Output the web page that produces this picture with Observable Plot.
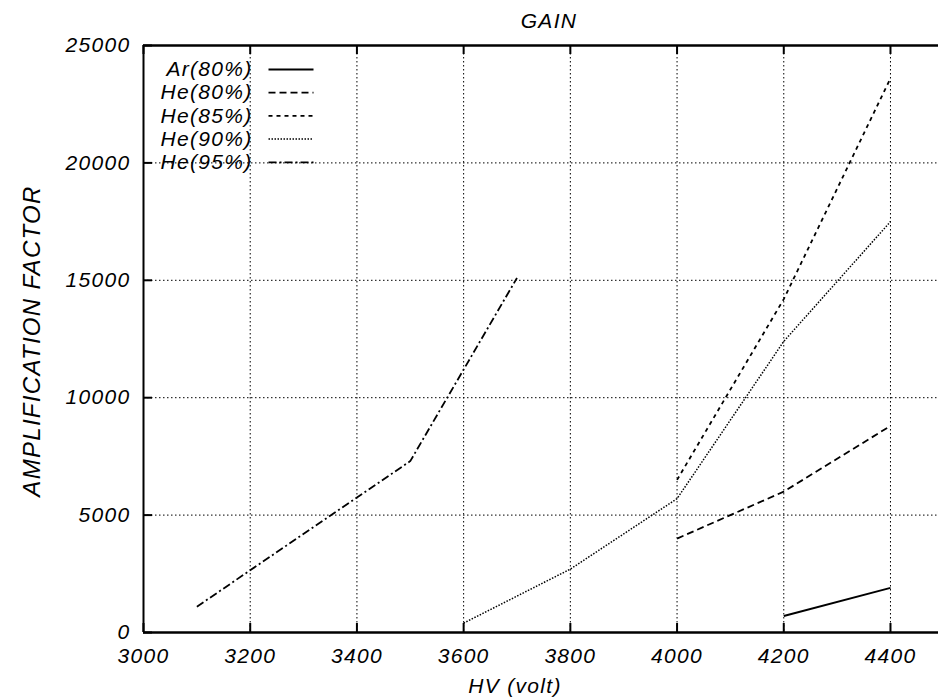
<!DOCTYPE html>
<html>
<head>
<meta charset="utf-8">
<script src="https://cdn.jsdelivr.net/npm/d3@7"></script>
<script src="https://cdn.jsdelivr.net/npm/@observablehq/plot@0.6"></script>
<style>
  body { margin: 0; background: #fff; }
  #chart { width: 938px; height: 700px; }
</style>
</head>
<body>
<div id="chart"></div>
<script>
// ---- data ----
const seriesNames = ["Ar(80%)", "He(80%)", "He(85%)", "He(90%)", "He(95%)"];

const arHV    = [4200, 4400];
const arGain  = [700, 1900];

const he80HV   = [4000, 4200, 4400];
const he80Gain = [4000, 6000, 8800];

const he85HV   = [4000, 4200, 4400];
const he85Gain = [6500, 14200, 23600];

const he90HV   = [3600, 3800, 4000, 4200, 4400];
const he90Gain = [400, 2700, 5700, 12400, 17500];

const he95HV   = [3100, 3500, 3600, 3700];
const he95Gain = [1100, 7300, 11200, 15100];

const xTicks = [3000, 3200, 3400, 3600, 3800, 4000, 4200, 4400];
const yTicks = [0, 5000, 10000, 15000, 20000, 25000];

const titleText = "GAIN";
const xLabel = "HV (volt)";
const yLabel = "AMPLIFICATION FACTOR";

// ---- layout ----
const W = 938, H = 700;
const mL = 143, mR = 0, mT = 45, mB = 68;
const xDomain = [3000, 4490], yDomain = [0, 25000];
const plotW = W - mL - mR, plotH = H - mT - mB;
const xInv = px => xDomain[0] + (px - mL) / plotW * (xDomain[1] - xDomain[0]);
const yInv = py => yDomain[0] + (H - mB - py) / plotH * (yDomain[1] - yDomain[0]);

const FONT = "'Liberation Sans', Arial, Helvetica, sans-serif";
const tickLen = 9;

const lineStyles = [
  {strokeWidth: 2.0},
  {strokeWidth: 1.8, strokeDasharray: "7,4"},
  {strokeWidth: 1.8, strokeDasharray: "4,4"},
  {strokeWidth: 1.5, strokeDasharray: "1.5,1.5"},
  {strokeWidth: 1.8, strokeDasharray: "8,3,2,3"}
];

const seriesData = [
  [arHV, arGain], [he80HV, he80Gain], [he85HV, he85Gain], [he90HV, he90Gain], [he95HV, he95Gain]
];

const rows = seriesNames.flatMap((name, i) =>
  seriesData[i][0].map((hv, j) => ({name, hv, gain: seriesData[i][1][j]})));

const textBase = {fontSize: 21, fontStyle: "italic", fill: "black", fontFamily: FONT};

const marks = [];

// grid
marks.push(Plot.gridX(xTicks, {stroke: "black", strokeOpacity: 1, strokeWidth: 1, strokeDasharray: "1.5,2.5"}));
marks.push(Plot.gridY(yTicks, {stroke: "black", strokeOpacity: 1, strokeWidth: 1, strokeDasharray: "1.5,2.5"}));

// frame lines
marks.push(Plot.ruleY([yDomain[0]], {stroke: "black", strokeWidth: 2.5}));
marks.push(Plot.ruleY([yDomain[1]], {stroke: "black", strokeWidth: 2.5}));
marks.push(Plot.ruleX([xDomain[0]], {stroke: "black", strokeWidth: 2}));

// inward ticks
marks.push(Plot.ruleX(xTicks, {x: d => d, insetTop: plotH - tickLen, stroke: "black", strokeWidth: 2}));
marks.push(Plot.ruleX(xTicks, {x: d => d, insetBottom: plotH - tickLen, stroke: "black", strokeWidth: 2}));
marks.push(Plot.ruleY(yTicks, {y: d => d, insetRight: plotW - tickLen, stroke: "black", strokeWidth: 2}));

// series lines
seriesNames.forEach((name, i) => {
  marks.push(Plot.line(rows.filter(r => r.name === name), {
    x: "hv", y: "gain", stroke: "black", strokeLinecap: "butt", ...lineStyles[i]
  }));
});

// tick labels
marks.push(Plot.text(xTicks, {x: d => d, frameAnchor: "bottom", dy: 24, text: d => String(d), textAnchor: "middle", lineAnchor: "middle", ...textBase}));
marks.push(Plot.text(yTicks, {y: d => d, frameAnchor: "left", dx: -13, text: d => String(d), textAnchor: "end", lineAnchor: "middle", ...textBase}));

// titles
marks.push(Plot.text([titleText], {frameAnchor: "top", dx: 8, dy: -24, text: d => d, textAnchor: "middle", lineAnchor: "middle", ...textBase}));
marks.push(Plot.text([xLabel], {frameAnchor: "bottom", dx: -26, dy: 54, text: d => d, textAnchor: "middle", lineAnchor: "middle", ...textBase}));
marks.push(Plot.text([yLabel], {frameAnchor: "left", dx: -111, dy: 2, rotate: -90, text: d => d, textAnchor: "middle", lineAnchor: "middle", ...textBase, fontSize: 24}));

// legend
seriesNames.forEach((name, i) => {
  const ly = 69 + 23.2 * i;
  marks.push(Plot.text([name], {x: xInv(252), y: yInv(ly), text: d => d, textAnchor: "end", lineAnchor: "middle", ...textBase}));
  marks.push(Plot.link([name], {x1: xInv(268), x2: xInv(313), y1: yInv(ly), y2: yInv(ly), stroke: "black", strokeLinecap: "butt", ...lineStyles[i]}));
});

const chart = Plot.plot({
  width: W, height: H,
  marginLeft: mL, marginRight: mR, marginTop: mT, marginBottom: mB,
  x: {type: "linear", domain: xDomain, axis: null},
  y: {type: "linear", domain: yDomain, axis: null},
  style: {fontFamily: FONT, fontStyle: "italic", fontSize: "21px", letterSpacing: "1.3px", background: "white", color: "black", overflow: "visible"},
  marks
});
document.getElementById("chart").appendChild(chart);
</script>
</body>
</html>
